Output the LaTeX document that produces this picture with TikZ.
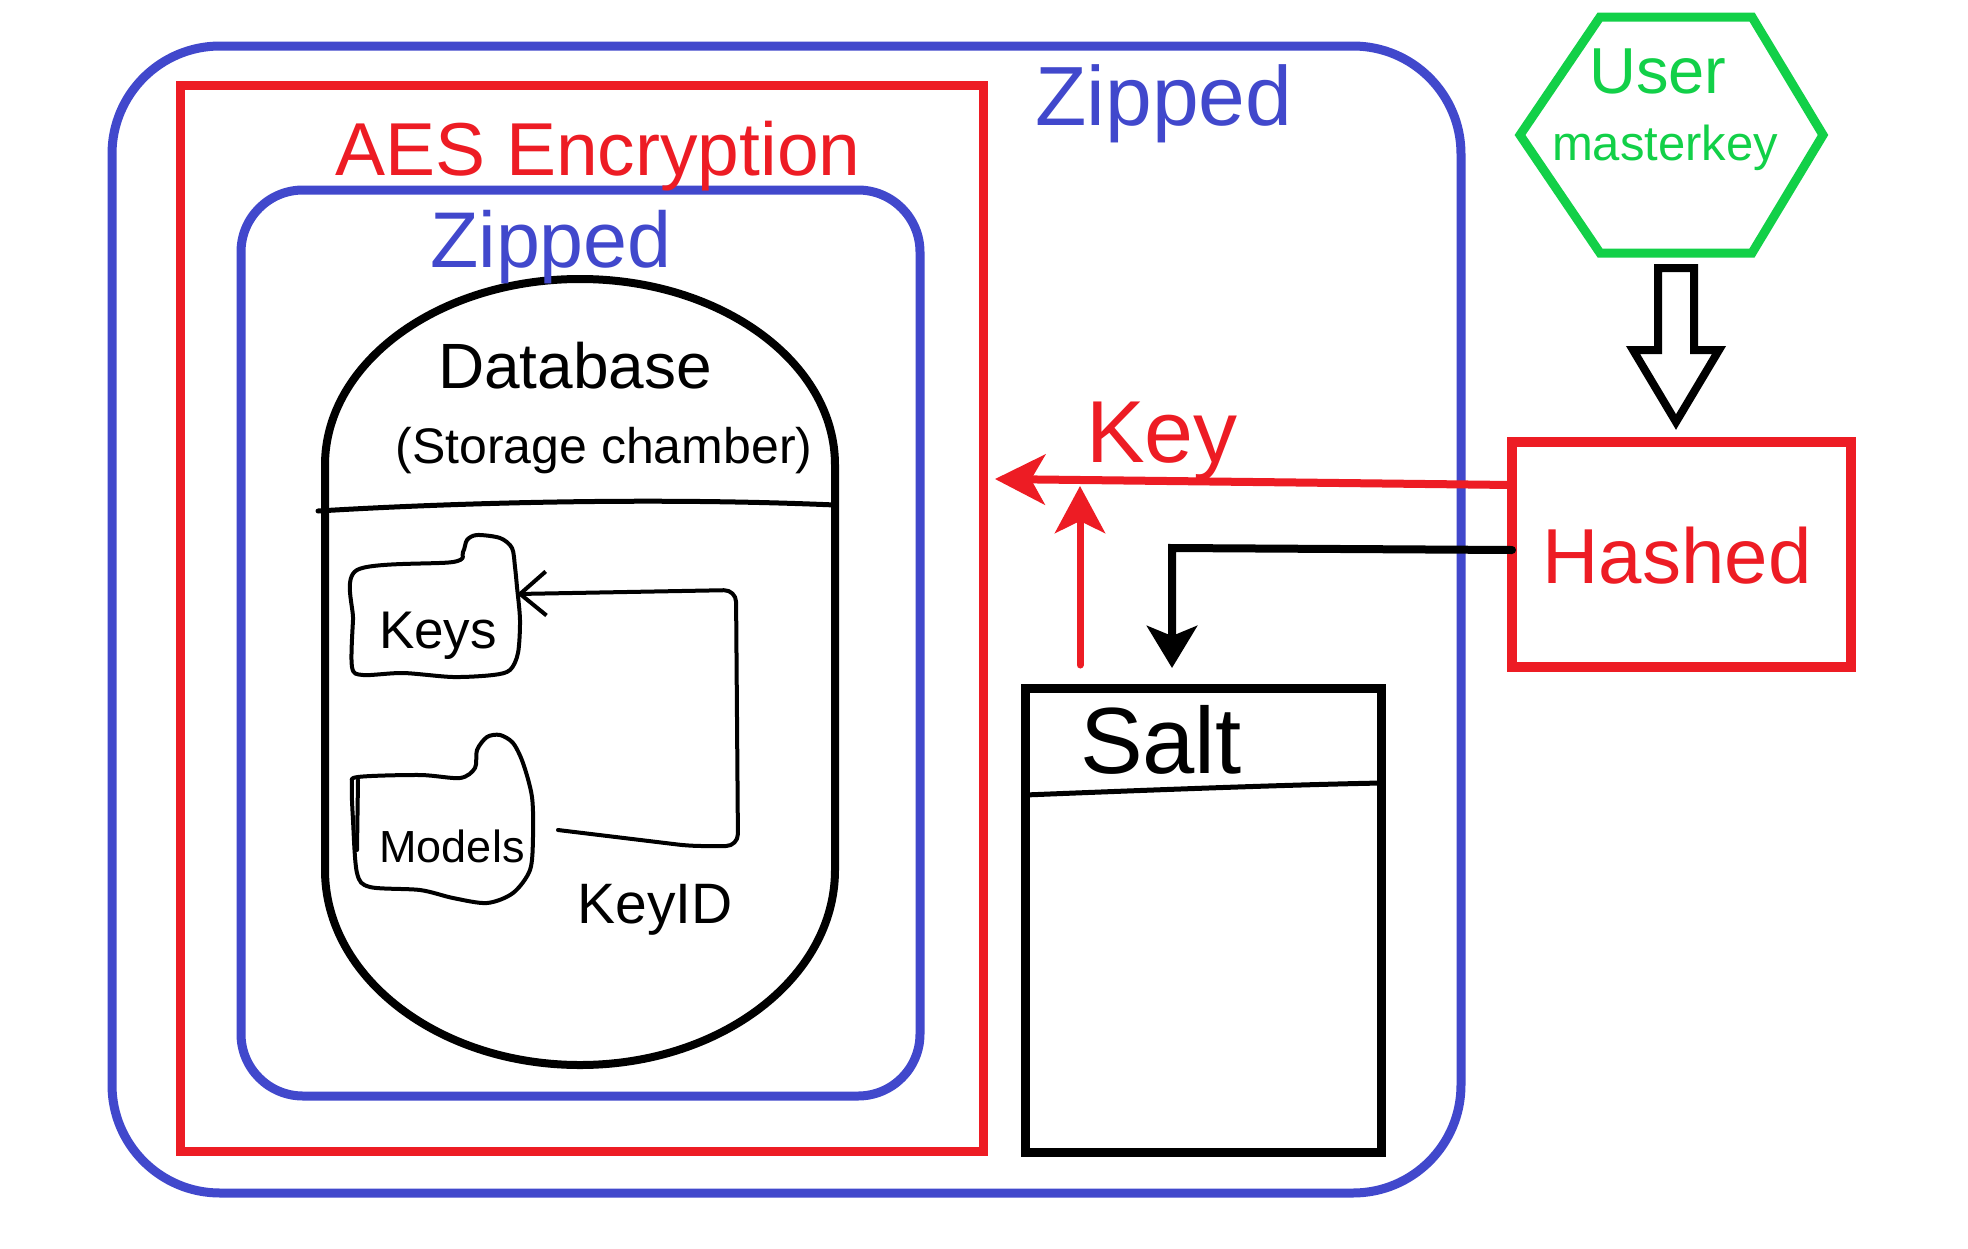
\documentclass[tikz,border=0pt]{standalone}
\usepackage{fontspec}
\setmainfont{Liberation Sans}
\usetikzlibrary{arrows.meta}
\definecolor{zblue}{RGB}{65,72,204}
\definecolor{zred}{RGB}{237,28,36}
\definecolor{zgreen}{RGB}{18,208,72}
\newcommand\myfs[1]{\fontsize{#1}{#1}\selectfont}
\tikzset{
  box/.style={draw, inner sep=0pt, outer sep=0pt},
  lbl/.style={anchor=base, inner sep=0pt},
  pen/.style={line width=4pt, line cap=round, line join=round},
}
\begin{document}
\begin{tikzpicture}[x=1pt,y=-1pt]
\fill[white] (0,0) rectangle (1968,1248);
\useasboundingbox (0,0) rectangle (1968,1248);

% containers
\node[box, draw=zblue, line width=9pt, rounded corners=108pt, minimum width=1349pt, minimum height=1147pt] (outer) at (786.5,619.5) {};
\node[box, draw=zred, line width=9pt, minimum width=803pt, minimum height=1066pt] (aes) at (581.5,618) {};
\node[box, draw=zblue, line width=9pt, rounded corners=62pt, minimum width=679pt, minimum height=906pt] (inner) at (580.5,643) {};

% database
\draw[line width=8pt] (325,870) -- (325,465) arc[start angle=180,end angle=360,x radius=255,y radius=186] -- (835,870) arc[start angle=0,end angle=180,x radius=255,y radius=195] -- cycle;
\draw[line width=5pt, line cap=round] (318,511) .. controls (450,503) and (650,497) .. (835,505);

% Keys folder
\draw[pen] plot[smooth cycle, tension=0.5] coordinates {(357,570) (453,562) (463,552) (467,540) (477,535) (500,538) (512,548) (515,567) (517,587) (520,620) (518,653) (510,670) (493,675) (453,677) (403,673) (363,675) (352,667) (353,620)};
% Models folder
\draw[pen] plot[smooth cycle, tension=0.5] coordinates {(358,777) (420,775) (460,778) (475,768) (477,750) (487,737) (500,735) (513,743) (523,763) (532,797) (533,837) (530,870) (513,893) (487,903) (453,898) (420,890) (370,887) (357,873) (353,820) (352,785)};
\draw[pen] (358,780) -- (357,850);

% texts
\node[lbl, text=zblue, font=\myfs{84}] (zip1) at (1164,125) {Zipped};
\node[lbl, text=zred, font=\myfs{75}] (aestxt) at (598,175) {AES Encryption};
\node[lbl, text=zblue, font=\myfs{79}] (zip2) at (551,267) {Zipped};
\node[lbl, font=\myfs{64}] (dbtxt) at (575,388) {Database};
\node[lbl, font=\myfs{50}] (dbsub) at (604,463) {(Storage chamber)};
\node[lbl, font=\myfs{53}] (keys) at (438,648) {Keys};
\node[lbl, font=\myfs{45}] (models) at (452,862) {Models};
\node[lbl, font=\myfs{57}] (keyid) at (655,923) {KeyID};

% KeyID connector
\coordinate (modout) at (558,830);
\coordinate (keysin) at (517,594);
\draw[pen, rounded corners=12pt, -{Straight Barb[length=26pt,width=44pt]}] (modout) -- (690,846) -- (738,846) -- (736,590) -- (keysin);

% right side
\node[box, draw=zred, line width=10pt, minimum width=339pt, minimum height=225pt] (hashed) at (1681.5,554.5) {};
\node[lbl, text=zred, font=\myfs{78}] (hashtxt) at (1677,583) {Hashed};

\node[box, draw=black, line width=9pt, minimum width=356pt, minimum height=464pt] (salt) at (1203,920) {};
\draw[line width=5pt, line cap=round] (1025,795) .. controls (1150,790) and (1280,785) .. (1381,783);
\node[lbl, font=\myfs{94}] (salttxt) at (1161,773) {Salt};

% hexagon
\draw[zgreen, line width=9pt] (1520,135) -- (1600,17) -- (1752,17) -- (1823,135) -- (1752,253) -- (1600,253) -- cycle;
\node[lbl, text=zgreen, font=\myfs{65}] (user) at (1658,93) {User};
\node[lbl, text=zgreen, font=\myfs{49}] (master) at (1665,160) {masterkey};

% block arrow
\draw[line width=8pt] (1658,268) -- (1694,268) -- (1694,350) -- (1719,350) -- (1676,422) -- (1633,350) -- (1658,350) -- cycle;

% arrows
\coordinate (keyout) at (1512,485);
\coordinate (keyin) at (995,479);
\draw[zred, line width=8pt, line cap=round, -{Stealth[length=50pt,width=50pt,inset=14pt]}] (keyout) -- (keyin);
\node[lbl, text=zred, font=\myfs{88}] (keylbl) at (1162,462) {Key};

\coordinate (upfrom) at (1080,665);
\coordinate (upto) at (1080,486);
\draw[zred, line width=7pt, line cap=round, -{Stealth[length=47pt,width=50pt,inset=12pt]}] (upfrom) -- (upto);

\coordinate (hout) at (1512,550);
\coordinate (saltin) at (1172,668);
\draw[line width=8pt, line cap=round, -{Stealth[length=42pt,width=50pt,inset=10pt]}] (hout) -- (1172,548) -- (saltin);
\end{tikzpicture}
\end{document}
